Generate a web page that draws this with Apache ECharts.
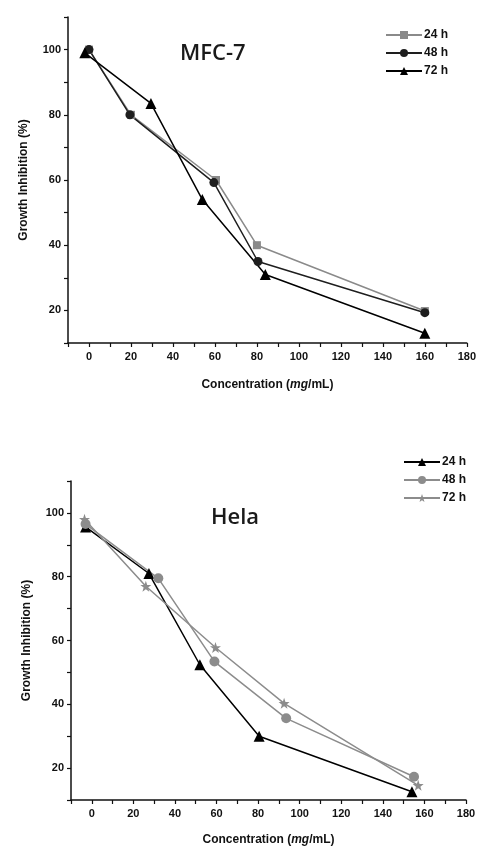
<!DOCTYPE html>
<html>
<head>
<meta charset="utf-8">
<script src="https://cdn.jsdelivr.net/npm/echarts@6/dist/echarts.min.js"></script>
<style>html,body{margin:0;padding:0;background:#fff}#c{width:479px;height:847px}</style>
</head>
<body>
<div id="c"></div>
<script>
// MFC-7 panel data [concentration, inhibition]
var mcf24 = [[0, 100], [20, 80], [60.5, 60], [80, 40], [160, 19.8]];
var mcf48 = [[0, 100], [19.5, 80], [59.5, 59.2], [80.5, 35], [160, 19.3]];
var mcf72 = [[-2, 99], [29.5, 83.5], [54, 54], [84, 31], [160, 13]];
// Hela panel data
var hela24 = [[-3, 95.6], [27.5, 81], [52, 52.4], [80.5, 30], [154, 12.6]];
var hela48 = [[-3, 96.5], [32, 79.5], [59, 53.4], [93.5, 35.6], [155, 17.3]];
var hela72 = [[-3.5, 98], [26, 77], [59.5, 57.8], [92.5, 40.3], [157, 14.6]];
var seriesLabels = ['24 h', '48 h', '72 h'];
var panelTitles = ['MFC-7', 'Hela'];
var xTicks = [0, 20, 40, 60, 80, 100, 120, 140, 160, 180];
var yTicks = [20, 40, 60, 80, 100];

var STAR = 'path://M0,-10 L2.35,-3.24 L9.51,-3.09 L3.8,1.24 L5.88,8.09 L0,4 L-5.88,8.09 L-3.8,1.24 L-9.51,-3.09 L-2.35,-3.24 Z';
var FONT = 'Liberation Sans, Arial, sans-serif';

function xAxis(gi, gap) {
  return {
    type: 'value', gridIndex: gi, min: -10, max: 180, interval: 10,
    axisLine: {show: true, onZero: false, lineStyle: {color: '#111', width: 1.5}},
    axisTick: {show: true, length: 4, lineStyle: {color: '#111', width: 1.2}},
    splitLine: {show: false},
    axisLabel: {
      margin: 8, fontFamily: FONT, fontWeight: 'bold', fontSize: 11, color: '#111',
      formatter: function (v) { return xTicks.indexOf(v) >= 0 ? String(v) : ''; }
    },
    name: '{a|Concentration (}{b|mg}{a|/mL)}',
    nameLocation: 'middle', nameGap: gap,
    nameTextStyle: {
      rich: {
        a: {fontFamily: FONT, fontWeight: 'bold', fontSize: 12, color: '#111'},
        b: {fontFamily: FONT, fontWeight: 'bold', fontStyle: 'italic', fontSize: 12, color: '#111'}
      }
    }
  };
}
function yAxis(gi) {
  return {
    type: 'value', gridIndex: gi, min: 10, max: 110, interval: 10,
    axisLine: {show: true, onZero: false, lineStyle: {color: '#111', width: 1.5}},
    axisTick: {show: true, length: 4, lineStyle: {color: '#111', width: 1.2}},
    splitLine: {show: false},
    axisLabel: {
      margin: 7, fontFamily: FONT, fontWeight: 'bold', fontSize: 11, color: '#111',
      formatter: function (v) { return yTicks.indexOf(v) >= 0 ? String(v) : ''; }
    },
    name: 'Growth Inhibition (%)',
    nameLocation: 'middle', nameGap: 38,
    nameTextStyle: {fontFamily: FONT, fontWeight: 'bold', fontSize: 12, color: '#111'}
  };
}
function line(name, data, gi, symbol, size, color) {
  return {
    name: name, type: 'line', xAxisIndex: gi, yAxisIndex: gi, data: data,
    symbol: symbol, symbolSize: size, showSymbol: true,
    lineStyle: {color: color, width: 1.5},
    itemStyle: {color: color},
    emphasis: {disabled: true},
    animation: false
  };
}
function legendFmt(n) { return n.split('|')[1]; }

var chart = echarts.init(document.getElementById('c'), null, {renderer: 'canvas'});
chart.setOption({
  backgroundColor: '#fff',
  animation: false,
  title: [
    {text: panelTitles[0], left: 175, top: 38, textStyle: {fontFamily: 'Open Sans, sans-serif', fontWeight: 600, fontSize: 22, color: '#1a1a1a'}},
    {text: panelTitles[1], left: 206, top: 502, textStyle: {fontFamily: 'Open Sans, sans-serif', fontWeight: 600, fontSize: 22, color: '#1a1a1a'}}
  ],
  legend: [
    {
      data: ['m|' + seriesLabels[0], 'm|' + seriesLabels[1], 'm|' + seriesLabels[2]],
      orient: 'vertical', left: 380, top: 24, itemWidth: 36, itemHeight: 10, itemGap: 6,
      formatter: legendFmt, selectedMode: false,
      textStyle: {fontFamily: FONT, fontWeight: 'bold', fontSize: 12, color: '#111', padding: [0, 0, 0, -3]}
    },
    {
      data: ['h|' + seriesLabels[0], 'h|' + seriesLabels[1], 'h|' + seriesLabels[2]],
      orient: 'vertical', left: 398, top: 451, itemWidth: 36, itemHeight: 10, itemGap: 6,
      formatter: legendFmt, selectedMode: false,
      textStyle: {fontFamily: FONT, fontWeight: 'bold', fontSize: 12, color: '#111', padding: [0, 0, 0, -3]}
    }
  ],
  grid: [
    {left: 68, top: 17, right: 12, bottom: 504},
    {left: 71, top: 481, right: 13, bottom: 44}
  ],
  xAxis: [xAxis(0, 36), xAxis(1, 34)],
  yAxis: [yAxis(0), yAxis(1)],
  series: [
    line('m|' + seriesLabels[0], mcf24, 0, 'rect', 8, '#8a8a8a'),
    line('m|' + seriesLabels[1], mcf48, 0, 'circle', 9, '#1e1e1e'),
    line('m|' + seriesLabels[2], mcf72, 0, 'triangle', 11, '#000'),
    line('h|' + seriesLabels[0], hela24, 1, 'triangle', 11, '#000'),
    line('h|' + seriesLabels[1], hela48, 1, 'circle', 10, '#8c8c8c'),
    line('h|' + seriesLabels[2], hela72, 1, STAR, 11, '#8c8c8c')
  ]
});
</script>
</body>
</html>
